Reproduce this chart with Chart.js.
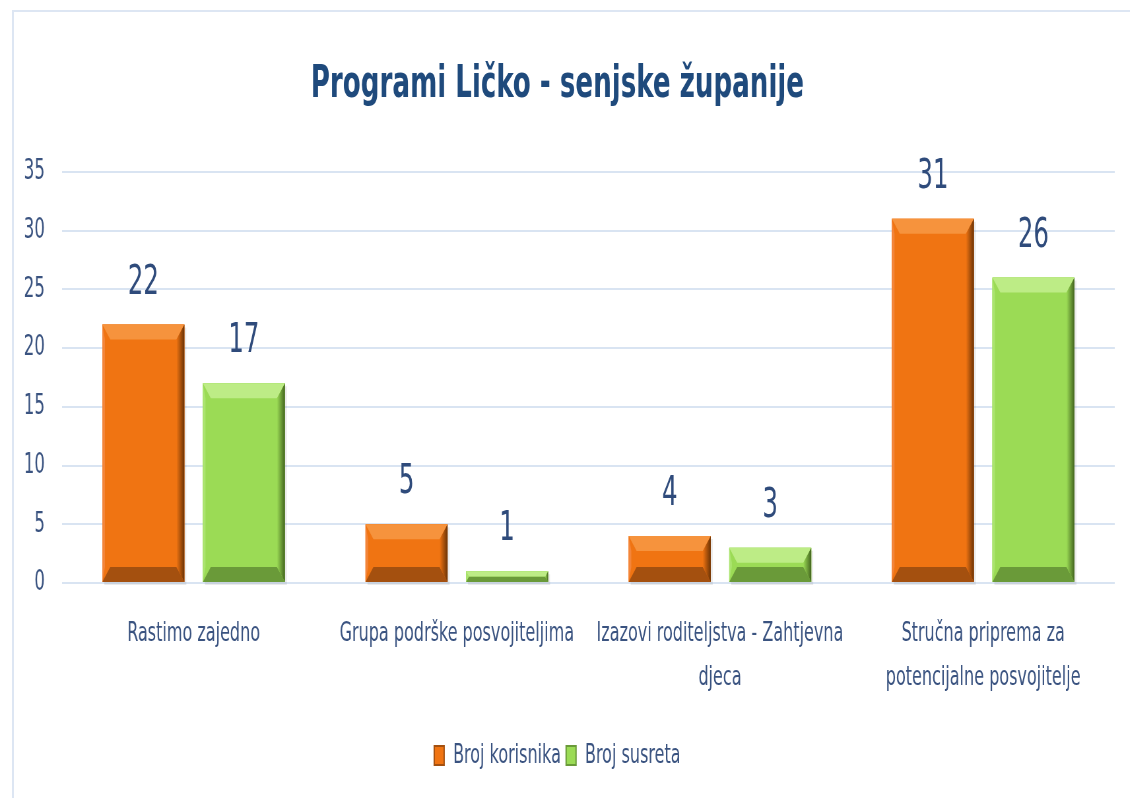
<!DOCTYPE html>
<html>
<head>
<meta charset="utf-8">
<script src="https://cdn.jsdelivr.net/npm/chart.js@4.4.1/dist/chart.umd.min.js"></script>
<style>
  html, body { margin: 0; padding: 0; background: #fff; }
  #wrap { position: relative; width: 1130px; height: 798px; overflow: hidden; }
  #frame { position: absolute; left: 12px; top: 10px; width: 1140px; height: 800px;
           border: 2px solid #dde6f3; box-sizing: border-box; }
  /* the reference is a horizontally squeezed picture, so the canvas is drawn wider and squeezed the same way */
  canvas { position: absolute; left: 0; top: 0; transform: scaleX(0.66); transform-origin: 0 0; }
</style>
</head>
<body>
<div id="wrap">
  <div id="frame"></div>
  <canvas id="chart" width="1712" height="798"></canvas>
</div>
<script>
// ========== DATA ==========
const categories = [
    ['Rastimo zajedno'],
    ['Grupa podrške posvojiteljima'],
    ['Izazovi roditeljstva - Zahtjevna', 'djeca'],
    ['Stručna priprema za', 'potencijalne posvojitelje']
];
const brojKorisnika = [22, 5, 4, 31];
const brojSusreta = [17, 1, 3, 26];
const yTicks = [0, 5, 10, 15, 20, 25, 30, 35];

const FONT = '"DejaVu Sans Condensed", "Liberation Sans", sans-serif';
const TEXT = '#3a5380';

// bevel colours per dataset
const bevels = [
    { face: '#f07412', top: '#f6933d', bottom: '#a4500f', right: '#6a3306', left: '#f3853a' },
    { face: '#9bdb55', top: '#bdec86', bottom: '#6a9a39', right: '#42631e', left: '#abe46f' }
];

// ========== PLUGINS ==========
function poly(ctx, pts) {
    ctx.beginPath();
    ctx.moveTo(pts[0][0], pts[0][1]);
    pts.slice(1).forEach(p => ctx.lineTo(p[0], p[1]));
    ctx.closePath();
    ctx.fill();
}

const bevelPlugin = {
    id: 'bevel',
    afterDatasetsDraw(chart) {
        const ctx = chart.ctx;
        chart.data.datasets.forEach((ds, i) => {
            const c = bevels[i];
            chart.getDatasetMeta(i).data.forEach(bar => {
                const l = bar.x - bar.width / 2, r = bar.x + bar.width / 2;
                const t = bar.y, b = bar.base;
                const h = b - t;
                const by = Math.min(15, h / 2), bx = Math.min(12, by * 0.8);
                ctx.save();
                ctx.fillStyle = 'rgba(0,0,0,0.08)';
                ctx.fillRect(l + 3, t + 3, bar.width, h);
                ctx.fillStyle = c.face;
                ctx.fillRect(l, t, bar.width, h);
                ctx.fillStyle = c.top;
                poly(ctx, [[l, t], [r, t], [r - bx, t + by], [l + bx, t + by]]);
                ctx.fillStyle = c.bottom;
                poly(ctx, [[l, b], [r, b], [r - bx, b - by], [l + bx, b - by]]);
                const g = ctx.createLinearGradient(r - bx, 0, r, 0);
                g.addColorStop(0, c.face);
                g.addColorStop(1, c.right);
                ctx.fillStyle = g;
                poly(ctx, [[r, t], [r, b], [r - bx, b - by], [r - bx, t + by]]);
                ctx.fillStyle = c.left;
                poly(ctx, [[l, t], [l, b], [l + 4, b - by], [l + 4, t + by]]);
                ctx.restore();
            });
        });
    }
};

const valueLabels = {
    id: 'valueLabels',
    afterDatasetsDraw(chart) {
        const ctx = chart.ctx;
        ctx.save();
        ctx.font = '41px ' + FONT;
        ctx.fillStyle = '#2f4b7b';
        ctx.textAlign = 'center';
        ctx.textBaseline = 'alphabetic';
        chart.data.datasets.forEach((ds, i) => {
            chart.getDatasetMeta(i).data.forEach((bar, j) => {
                ctx.fillText(ds.data[j], bar.x, bar.y - 31);
            });
        });
        ctx.restore();
    }
};

// ========== CHART ==========
new Chart(document.getElementById('chart'), {
    type: 'bar',
    data: {
        labels: categories,
        datasets: [
            { label: 'Broj korisnika', data: brojKorisnika, backgroundColor: bevels[0].face },
            { label: 'Broj susreta', data: brojSusreta, backgroundColor: bevels[1].face }
        ]
    },
    options: {
        responsive: false,
        animation: false,
        devicePixelRatio: 1,
        categoryPercentage: 0.764,
        barPercentage: 0.816,
        layout: { padding: { top: 59, left: 0, right: 23, bottom: 19 } },
        plugins: {
            title: {
                display: true,
                text: 'Programi Ličko - senjske županije',
                color: '#1f4a7c',
                font: { family: FONT, size: 44, weight: 'bold' },
                padding: { top: 0, bottom: 60 }
            },
            legend: {
                position: 'bottom',
                labels: {
                    color: TEXT,
                    font: { family: FONT, size: 27 },
                    boxWidth: 15,
                    boxHeight: 19,
                    padding: 8,
                    generateLabels(chart) {
                        return chart.data.datasets.map((ds, i) => ({
                            text: ds.label,
                            fillStyle: bevels[i].face,
                            strokeStyle: bevels[i].bottom,
                            lineWidth: 2,
                            fontColor: TEXT,
                            datasetIndex: i
                        }));
                    }
                }
            },
            tooltip: { enabled: false }
        },
        scales: {
            x: {
                grid: { display: false, drawTicks: false },
                border: { display: false },
                afterFit(axis) { axis.height = 151; },
                ticks: {
                    color: TEXT,
                    font: { family: FONT, size: 27, lineHeight: 44 / 27 },
                    padding: 29,
                    maxRotation: 0,
                    autoSkip: false
                }
            },
            y: {
                min: 0,
                max: 35,
                afterBuildTicks(axis) { axis.ticks = yTicks.map(v => ({ value: v })); },
                afterFit(axis) { axis.width = 94; },
                grid: { color: '#d9e4f2', lineWidth: 2, drawTicks: false },
                border: { display: false },
                ticks: {
                    color: TEXT,
                    font: { family: FONT, size: 28 },
                    padding: 26
                }
            }
        }
    },
    plugins: [bevelPlugin, valueLabels]
});
</script>
</body>
</html>
